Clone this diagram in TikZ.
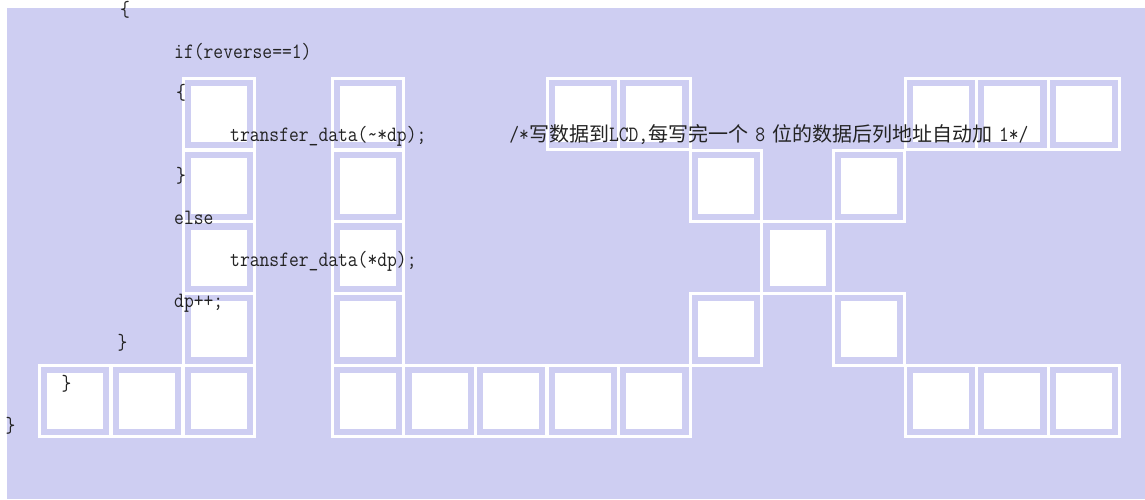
\documentclass[tikz,border=0pt]{standalone}
\usepackage{fontspec}
\usepackage{graphicx}
\newfontfamily\cjk{Noto Sans CJK SC}
\newcommand\zh[1]{{\fontsize{20pt}{20pt}\cjk #1}}
\newcommand\lat[1]{\scalebox{1}[1.15]{#1}}
\definecolor{bgl}{RGB}{206,206,242}
\definecolor{txt}{RGB}{35,35,35}
\tikzset{
  cellborder/.style={draw=white, line width=3pt},
  cellinner/.style={fill=white},
  code/.style={anchor=base west, inner sep=0pt, text=txt,
    font=\fontsize{19.05pt}{20pt}\selectfont\ttfamily},
}
\begin{document}
\begin{tikzpicture}[x=1pt,y=-1pt]
\useasboundingbox (0,0) rectangle (1145,499);
\fill[bgl] (7,8) rectangle (1145,499);
% cells
\foreach \cx/\cy in {
  219/114, 368/114, 582.8/114, 654.4/114, 940.8/114, 1012.4/114, 1084/114,
  219/185.75, 368/185.75, 726/185.75, 869.2/185.75,
  219/257.5, 368/257.5, 797.6/257.5,
  219/329.25, 368/329.25, 726/329.25, 869.2/329.25,
  75/400.75, 147/400.75, 219/400.75, 368/400.75, 439.6/400.75, 511.2/400.75,
  582.8/400.75, 654.4/400.75, 940.8/400.75, 1012.4/400.75, 1084/400.75}
{
  \draw[cellborder] (\cx-35.75,\cy-35.75) rectangle (\cx+35.75,\cy+35.75);
  \fill[cellinner] (\cx-28,\cy-28) rectangle (\cx+28,\cy+28);
}
% code text
\node[code] (l0) at (120,16.4) {\lat{\{}};
\node[code] (l1) at (174,58) {\lat{if(reverse==1)}};
\node[code] (l2) at (176,99.6) {\lat{\{}};
\node[code] (l3) at (230,141.2) {\lat{transfer\_data(\textasciitilde*dp);}\hspace{83pt}\lat{/*}\zh{写数据到}\lat{LCD,}\zh{每写完一个}\hspace{7pt}\lat{8}\hspace{7pt}\zh{位的数据后列地址自动加}\hspace{7pt}\lat{1*/}};
\node[code] (l4) at (176,182.8) {\lat{\}}};
\node[code] (l5) at (174,224.4) {\lat{else}};
\node[code] (l6) at (230,266) {\lat{transfer\_data(*dp);}};
\node[code] (l7) at (174,307.6) {\lat{dp++;}};
\node[code] (l8) at (117.5,349.2) {\lat{\}}};
\node[code] (l9) at (61.5,390.8) {\lat{\}}};
\node[code] (l10) at (5.5,432.4) {\lat{\}}};
\end{tikzpicture}
\end{document}
